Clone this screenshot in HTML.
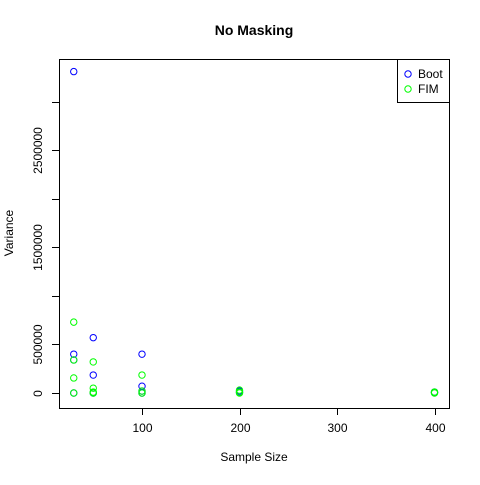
<!DOCTYPE html>
<html><head><meta charset="utf-8"><style>
body{margin:0;background:#fff}
text{font-family:"Liberation Sans",sans-serif;font-size:12px;fill:#000}
</style></head><body>
<svg id="chart" width="480" height="480" xmlns="http://www.w3.org/2000/svg">
<rect width="480" height="480" fill="#fff"/>
<text x="254" y="35" text-anchor="middle" style="font-weight:bold;font-size:14px">No Masking</text>
<rect x="59.5" y="59.5" width="390" height="349" fill="none" stroke="#000"/>
<g id="axes"></g>
<g id="pts"></g>
<g>
<rect x="397.5" y="59.5" width="52" height="43" fill="#fff" stroke="#000"/>
<circle cx="408" cy="74" r="3.2" fill="none" stroke="#0000ff"/>
<text x="418" y="78">Boot</text>
<circle cx="408" cy="89" r="3.2" fill="none" stroke="#00ff00"/>
<text x="418" y="93">FIM</text>
</g>
<text x="254" y="461" text-anchor="middle">Sample Size</text>
<text transform="translate(13,233) rotate(-90)" text-anchor="middle">Variance</text>
</svg>
<script>
const bootN=[30,30,30,30,50,50,50,100,100,100,100,200,200,400,400];
const bootV=[3310000,400000,340000,0,570000,185000,0,400000,70000,20000,0,20000,5000,10000,3000];
const fimN=[30,30,30,30,50,50,50,50,100,100,100,200,200,200,400,400];
const fimV=[730000,340000,155000,0,320000,50000,10000,0,185000,20000,0,30000,10000,0,10000,0];
const xTicks=[100,200,300,400];
const yTicks=[0,500000,1000000,1500000,2000000,2500000,3000000];
const yLabels=["0","500000","","1500000","","2500000",""];
const NS="http://www.w3.org/2000/svg";
const X=v=>142+(v-100)*0.975;
const Y=v=>393-v*0.0000971;
const ax=document.getElementById('axes'),pts=document.getElementById('pts');
function mk(t,a,p){const e=document.createElementNS(NS,t);for(const k in a)e.setAttribute(k,a[k]);p.appendChild(e);return e;}
xTicks.forEach(t=>{const x=Math.round(X(t))+0.5;
const l=mk('line',{x1:x,x2:x,y1:408,y2:415,stroke:'#000'},ax);


const s=mk('text',{x:x,y:432,'text-anchor':'middle'},ax);s.textContent=t;

});
yTicks.forEach((t,i)=>{const y=Math.round(Y(t))+0.5;
const l=mk('line',{x1:52,x2:59,y1:y,y2:y,stroke:'#000'},ax);


if(yLabels[i]){const s=mk('text',{transform:`translate(42,${y}) rotate(-90)`,'text-anchor':'middle'},ax);s.textContent=yLabels[i];

}});
bootN.forEach((n,i)=>{const c=mk('circle',{cx:X(n),cy:Y(bootV[i]),r:3.2,fill:'none',stroke:'#0000ff'},pts);

});
fimN.forEach((n,i)=>{const c=mk('circle',{cx:X(n),cy:Y(fimV[i]),r:3.2,fill:'none',stroke:'#00ff00'},pts);

});
</script>
</body></html>
